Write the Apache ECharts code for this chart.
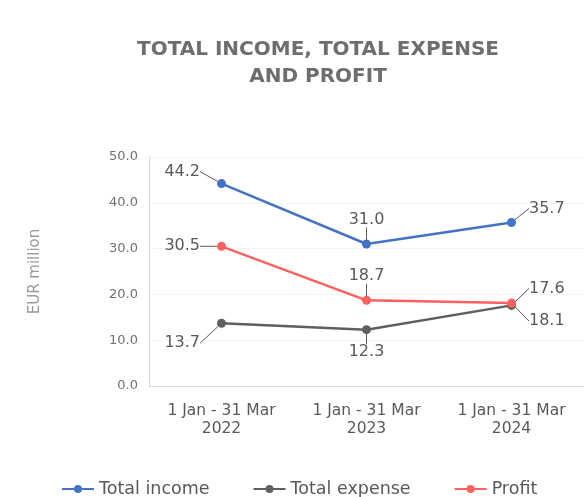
<!DOCTYPE html>
<html>
<head>
<meta charset="utf-8">
<script src="https://cdn.jsdelivr.net/npm/echarts@6/dist/echarts.min.js"></script>
<style>
html,body{margin:0;padding:0;background:#fff;}
#chart{width:584px;height:497px;}
</style>
</head>
<body>
<div id="chart"></div>
<script>
var categories = ['1 Jan - 31 Mar\n2022', '1 Jan - 31 Mar\n2023', '1 Jan - 31 Mar\n2024'];
var totalIncome = [44.2, 31.0, 35.7];
var totalExpense = [13.7, 12.3, 17.6];
var profit = [30.5, 18.7, 18.1];
var yTicks = [0, 10, 20, 30, 40, 50];

// where each value label sits, per series
var labelPos = [
	[['left', -11, -12], ['top', 0, -6], ['right', 7, -14]],
	[['left', -11, 20], ['bottom', 0, 4], ['right', 7, -17]],
	[['left', -11, 0], ['top', 0, -6], ['right', 7, 18]]
];

var textCol = '#595959';
var fontFam = 'DejaVu Sans';
var myChart = echarts.init(document.getElementById('chart'));

function makeSeries(name, data, color, idx, z) {
	return {
		name: name,
		type: 'line',
		data: data.map(function (v, i) {
			return {value: v, label: {position: labelPos[idx][i][0]}};
		}),
		symbol: 'circle',
		symbolSize: 9,
		itemStyle: {color: color},
		lineStyle: {color: color, width: 2.5},
		label: {
			show: true,
			color: textCol,
			fontSize: 16,
			fontFamily: fontFam,
			distance: 6,
			formatter: function (p) { return p.value.toFixed(1); }
		},
		labelLine: {show: true, lineStyle: {color: textCol, width: 1}},
		labelLayout: function (p) {
			var s = labelPos[idx][p.dataIndex];
			return {dx: s[1], dy: s[2]};
		},
		z: z
	};
}

var option = {
	backgroundColor: '#fff',
	animation: false,
	title: {
		text: 'TOTAL INCOME, TOTAL EXPENSE\nAND PROFIT',
		left: 313,
		textAlign: 'center',
		top: 31,
		textStyle: {
			color: '#6e6e6e',
			fontSize: 20,
			fontWeight: 'bold',
			fontFamily: fontFam,
			lineHeight: 27
		}
	},
	grid: {left: 149, width: 438, top: 157, height: 229},
	legend: {
		top: 475,
		left: 56,
		itemGap: 43,
		itemWidth: 32,
		itemHeight: 10,
		textStyle: {color: textCol, fontSize: 17.5, fontFamily: fontFam},
		data: ['Total income', 'Total expense', 'Profit']
	},
	xAxis: {
		type: 'category',
		data: categories,
		boundaryGap: true,
		axisLine: {lineStyle: {color: '#d9d9d9'}},
		axisTick: {show: false},
		axisLabel: {
			color: textCol,
			fontSize: 15.5,
			fontFamily: fontFam,
			lineHeight: 18,
			margin: 16
		}
	},
	yAxis: {
		type: 'value',
		min: yTicks[0],
		max: yTicks[yTicks.length - 1],
		interval: 10,
		name: 'EUR million',
		nameLocation: 'middle',
		nameGap: 106,
		nameTextStyle: {color: '#9a9a9a', fontSize: 15, fontFamily: fontFam},
		axisLine: {show: true, lineStyle: {color: '#d9d9d9'}},
		axisTick: {show: false},
		axisLabel: {
			color: '#707070',
			fontSize: 13,
			fontFamily: fontFam,
			margin: 11,
			formatter: function (v) { return v.toFixed(1); }
		},
		splitLine: {lineStyle: {color: '#f4f4f4'}}
	},
	series: [
		makeSeries('Total income', totalIncome, '#4472c4', 0, 3),
		makeSeries('Total expense', totalExpense, '#5f5f5f', 1, 1),
		makeSeries('Profit', profit, '#ff6060', 2, 2)
	]
};

myChart.setOption(option);
</script>
</body>
</html>
